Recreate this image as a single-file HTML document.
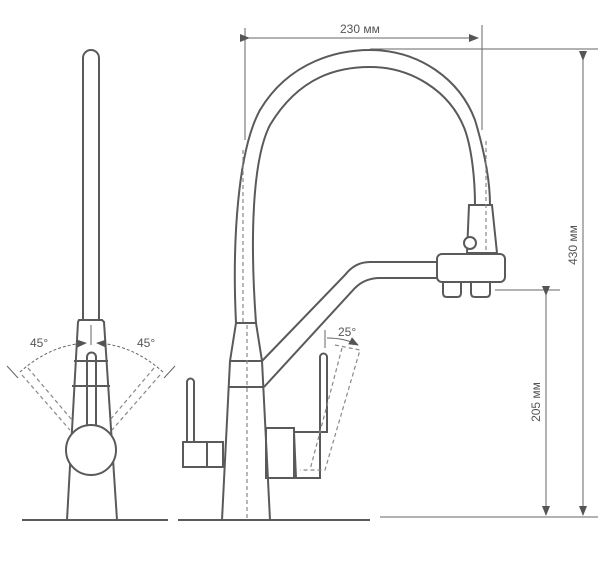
<!DOCTYPE html>
<html><head><style>body{margin:0;background:#fff}svg{display:block}text{font-family:"Liberation Sans",sans-serif;fill:#555;font-size:12px}</style></head><body>
<svg width="600" height="571" viewBox="0 0 600 571" xmlns="http://www.w3.org/2000/svg">
<defs><marker id="a" markerWidth="10" markerHeight="8" refX="9" refY="4" orient="auto"><path d="M0,0 L10,4 L0,8 z" fill="#555"/></marker></defs>
<g fill="none" stroke="#5a5a5a" stroke-width="2">
<!-- floor -->
<line x1="22" y1="520" x2="168" y2="520"/><line x1="178" y1="520" x2="370" y2="520"/>
<!-- left faucet -->
<path d="M83,320 V58 a8,8 0 0 1 16,0 V320"/>
<path d="M79,320 H102 L104,322 L117,520 H67 L78,322 Z"/>
<line x1="74" y1="361" x2="108" y2="361"/><line x1="72" y1="386" x2="110" y2="386"/>
<path d="M87,425 V357 a4.5,4.5 0 0 1 9,0 V425"/>
<circle cx="91" cy="450" r="25" fill="#fff"/>
<!-- right faucet body -->
<path d="M236,323 H256 L262,361 L270,520 H222 L230,361 Z"/>
<line x1="230" y1="361" x2="262" y2="361"/><line x1="229" y1="387" x2="264" y2="387"/>
<!-- hose -->
<path d="M236,323 C232,240 238,150 260,110 C290,60 340,50 370,50 C420,50 460,80 475,120 C484,150 490,180 490,205"/>
<path d="M256,323 C250,240 252,160 270,125 C300,75 340,67 370,67 C410,67 450,90 465,130 C472,150 475,180 475,205"/>
<!-- arm -->
<path d="M262,361 L345,275 Q355,262 370,262 H437"/>
<path d="M264,387 L355,288 Q365,278 380,278 H437"/>
<!-- head -->
<path d="M469,205 H492 L497,253 H467 Z"/>
<rect x="437" y="254" width="68" height="28" rx="5" fill="#fff"/>
<path d="M443,282 V293 q0,4 4,4 H457 q4,0 4,-4 V282"/><path d="M471,282 V293 q0,4 4,4 H486 q4,0 4,-4 V282"/>
<circle cx="470" cy="243" r="6" fill="#fff"/>
<!-- levers -->
<path d="M187,442 V382 a3.5,3.5 0 0 1 7,0 V442"/>
<rect x="183" y="442" width="40" height="25"/><line x1="207" y1="442" x2="207" y2="467"/>
<rect x="266" y="428" width="28" height="50"/>
<path d="M294,432 H320 V478 H296 Z"/><line x1="294" y1="432" x2="294" y2="478"/>
<path d="M320,432 V357 a3.5,3.5 0 0 1 7,0 V432 L320,432"/>
</g>
<g fill="none" stroke="#888" stroke-width="1.2" stroke-dasharray="4,3">
<line x1="247" y1="325" x2="247" y2="518"/>
<line x1="243" y1="322" x2="243" y2="150"/>
<line x1="486" y1="250" x2="486" y2="140"/>
<path d="M335,345 L360,350 L325,470 L300,470"/><path d="M342,348 L310,470"/>
<path d="M22,375 L70,430"/><path d="M28,368 L72,420"/>
<path d="M160,375 L112,430"/><path d="M154,368 L110,420"/>
</g>
<g stroke="#666" stroke-width="1" fill="none">
<line x1="245" y1="28" x2="245" y2="140"/><line x1="482" y1="25" x2="482" y2="130"/>
<line x1="249" y1="38" x2="478" y2="38" marker-start="url(#a)" marker-end="url(#a)"/>
<line x1="370" y1="49" x2="598" y2="49"/>
<line x1="583" y1="60" x2="583" y2="515" marker-start="url(#a)" marker-end="url(#a)"/>
<line x1="495" y1="290" x2="560" y2="290"/>
<line x1="546" y1="295" x2="546" y2="515" marker-start="url(#a)" marker-end="url(#a)"/>
<line x1="380" y1="517" x2="598" y2="517"/>
<line x1="7" y1="366" x2="18" y2="378"/><line x1="175" y1="366" x2="164" y2="378"/>
<path d="M20,372 Q50,345 86,343" marker-end="url(#a)" stroke-dasharray="3,2"/>
<path d="M163,372 Q133,345 97,343" marker-end="url(#a)" stroke-dasharray="3,2"/>
<line x1="91" y1="325" x2="91" y2="345"/>
<line x1="325" y1="330" x2="325" y2="348"/>
<path d="M327,338 Q345,338 358,345" marker-end="url(#a)"/>
</g>
<text x="340" y="33">230 мм</text>
<text x="30" y="347">45°</text><text x="137" y="347">45°</text>
<text x="338" y="336">25°</text>
<text transform="translate(577,245) rotate(-90)" text-anchor="middle">430 мм</text>
<text transform="translate(540,402) rotate(-90)" text-anchor="middle">205 мм</text>
</svg>
</body></html>
